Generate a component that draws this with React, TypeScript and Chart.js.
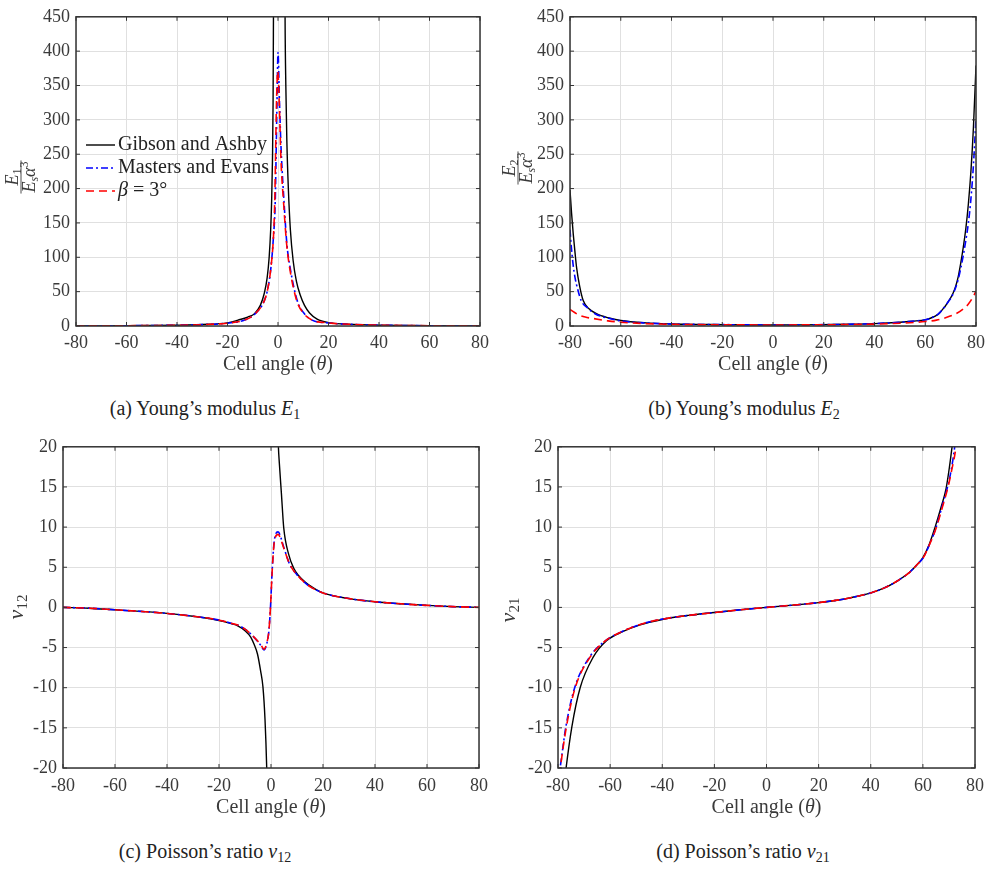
import React, { useEffect, useRef } from "react";
import { Chart, registerables } from "chart.js";

Chart.register(...registerables);

// ---------- tick labels ----------
const X_TICKS = [-80, -60, -40, -20, 0, 20, 40, 60, 80];
const E_TICKS = [0, 50, 100, 150, 200, 250, 300, 350, 400, 450];
const NU_TICKS = [-20, -15, -10, -5, 0, 5, 10, 15, 20];

// ---------- series names ----------
const SERIES_NAMES = ["Gibson and Ashby", "Masters and Evans", "β = 3°"];

// ---------- (a) E1 ----------
const E1_GA_X = [-80, -70, -60, -50, -40, -30, -20, -15.8, -12, -9.3, -7, -5.4, -4.3, -3.5, -2.9, -2.5, -2.2, -1.95, -1.8, -1.6, 0.5, 2.6, 2.8, 3.1, 3.5, 4.1, 4.9, 6.0, 7.3, 8.8, 10.5, 12.5, 15.5, 20, 30, 40, 50, 60, 70, 80];
const E1_GA_Y = [0.1, 0.2, 0.4, 0.7, 1.2, 2.2, 4.5, 8.6, 13, 18, 30, 48, 70, 100, 140, 185, 240, 324, 450, 650, null, 650, 450, 350, 270, 200, 140, 95, 65, 45, 30, 19, 10, 5, 2.3, 1.2, 0.7, 0.4, 0.2, 0.1];
const E1_ME_X = [-80, -70, -60, -50, -40, -30, -20, -13.2, -9, -5.4, -4, -2.8, -1.8, -1.1, -0.7, -0.4, 0, 0.6, 1.2, 2.4, 3.5, 4.8, 7.6, 10, 13.5, 20, 30, 40, 50, 60, 70, 80];
const E1_ME_Y = [0.1, 0.2, 0.4, 0.7, 1.1, 2, 4.2, 8.6, 18, 37, 55, 85, 130, 180, 260, 324, 398, 324, 260, 180, 120, 85, 37, 20, 8.6, 4.5, 2.2, 1.2, 0.7, 0.4, 0.2, 0.1];
const E1_B3_X = [-80, -70, -60, -50, -40, -30, -20, -13.2, -9, -5.4, -4, -2.8, -1.8, -1.3, -0.6, -0.1, 0.5, 1.2, 2.2, 3.4, 4.6, 7.4, 10, 13.5, 20, 30, 40, 50, 60, 70, 80];
const E1_B3_Y = [0.1, 0.2, 0.4, 0.7, 1.1, 2, 4.2, 8.6, 18, 37, 55, 85, 130, 180, 324, 371, 324, 240, 180, 120, 85, 37, 19, 8.6, 4.5, 2.2, 1.2, 0.7, 0.4, 0.2, 0.1];

// ---------- (b) E2 ----------
const E2_GA_X = [-80, -79.4, -78.7, -78, -77.4, -76.2, -74.8, -72.5, -69.6, -65, -60, -50, -40, -30, -20, -10, 0, 10, 20, 30, 40, 50, 55, 60, 62.5, 65, 66, 67, 68, 69, 70, 71, 72, 73, 74, 75, 76, 77, 78, 79, 80];
const E2_GA_Y = [198, 165, 133, 106, 85, 58, 37, 25, 18, 12, 8, 4.5, 3, 2.3, 2, 1.7, 1.5, 1.6, 2, 2.5, 3.5, 5.5, 7, 9, 12, 17, 20.5, 25, 29.5, 35, 41, 48, 58, 72, 92, 115, 142, 178, 225, 290, 379];
const E2_ME_X = [-80, -79.5, -78.8, -78, -77, -75.6, -73, -70, -65, -60, -50, -40, -30, -20, -10, 0, 10, 20, 30, 40, 50, 55, 60, 62.5, 65, 66, 67, 68, 69, 70, 71, 72, 73, 74, 75, 76, 77, 78, 79, 80];
const E2_ME_Y = [140, 116, 90, 70, 54, 37, 26, 17.5, 11.5, 7.5, 4.3, 3, 2.3, 2, 1.7, 1.5, 1.6, 2, 2.5, 3.5, 5.5, 7, 9, 12, 17, 20.5, 25, 29.5, 35, 40, 47, 56, 68, 84, 103, 125, 150, 185, 235, 302];
const E2_B3_X = [-80, -77, -74, -71, -65, -60, -50, -40, -30, -20, -10, 0, 10, 20, 30, 40, 50, 60, 64.4, 68, 72.2, 75, 77, 79.1, 80];
const E2_B3_Y = [24, 17, 13, 11, 7.5, 5.5, 3.5, 2.5, 2, 1.8, 1.6, 1.5, 1.6, 1.8, 2.1, 2.8, 4, 6.5, 8.6, 12, 18, 25, 32, 44, 51];

// ---------- (c) nu12 ----------
const N12_GA_X = [-80, -70, -60, -50, -40, -30, -20.4, -15, -12.8, -10, -7.8, -6.5, -5.2, -4, -3.1, -2.3, -1.65, -1.4, 0.5, 2.6, 2.85, 3.2, 4.0, 4.9, 6.8, 8.7, 10.5, 13, 16, 20, 30, 40, 50, 60, 70, 80];
const N12_GA_Y = [0, -0.1, -0.3, -0.5, -0.75, -1.1, -1.6, -2.05, -2.3, -2.9, -3.7, -4.6, -5.8, -7.9, -9.9, -14, -20, -24, null, 23, 20, 18, 14.2, 9.9, 6.6, 4.9, 4.0, 3.2, 2.5, 1.8, 1.1, 0.7, 0.45, 0.25, 0.1, 0];
const N12_ME_X = [-80, -70, -60, -50, -40, -30, -20.4, -15, -12.8, -10, -7.8, -5.2, -4, -2.7, -1.4, -0.8, -0.2, 0.45, 1.3, 2.7, 4.9, 7, 9.9, 13.7, 16, 20, 30, 40, 50, 60, 70, 80];
const N12_ME_Y = [0, -0.1, -0.3, -0.5, -0.75, -1.1, -1.55, -2, -2.2, -2.7, -3.3, -4.2, -4.7, -5.3, -4.2, -2.9, 0, 4.6, 8.4, 9.4, 7.5, 5.5, 4.1, 2.9, 2.4, 1.8, 1.1, 0.7, 0.45, 0.25, 0.1, 0];
const N12_B3_X = [-80, -70, -60, -50, -40, -30, -20.4, -15, -12.8, -10, -7.8, -5.2, -4, -2.7, -1.4, -0.8, -0.2, 0.45, 1.3, 2.7, 4.9, 7, 9.9, 13.7, 16, 20, 30, 40, 50, 60, 70, 80];
const N12_B3_Y = [0, -0.1, -0.3, -0.5, -0.75, -1.1, -1.55, -2, -2.2, -2.7, -3.3, -4.15, -4.6, -5.2, -4.15, -2.9, 0, 4.5, 8.2, 9.1, 7.4, 5.5, 4.1, 2.9, 2.4, 1.8, 1.1, 0.7, 0.45, 0.25, 0.1, 0];

// ---------- (d) nu21 ----------
const N21_GA_X = [-77.6, -76.9, -74.7, -71.5, -66.5, -61.4, -55, -48.8, -40, -30, -20, -10, 0, 10, 20, 30, 35, 40, 45, 50, 55, 58, 60, 62.5, 64.6, 67, 68.9, 70.2, 71.2, 72];
const N21_GA_Y = [-22, -20, -14.9, -10, -6.2, -4.15, -3, -2.2, -1.5, -1, -0.64, -0.3, 0, 0.28, 0.6, 1.05, 1.4, 1.8, 2.4, 3.25, 4.4, 5.4, 6.2, 7.9, 9.9, 12.5, 14.8, 17.5, 20, 22];
const N21_ME_X = [-80, -79.2, -77, -73.6, -67.9, -62, -55, -48.8, -40, -30, -20, -10, 0, 10, 20, 30, 35, 40, 45, 50, 55, 58, 60, 62.5, 65, 67.3, 69.3, 70.8, 72.2, 72.8];
const N21_ME_Y = [-21.5, -20, -14.9, -10, -6.2, -4.2, -2.95, -2.15, -1.46, -1, -0.64, -0.3, 0, 0.28, 0.6, 1.05, 1.4, 1.8, 2.4, 3.25, 4.4, 5.4, 6.1, 7.8, 9.9, 12.5, 14.8, 17, 20, 22];
const N21_B3_X = [-80, -79.1, -76.8, -73.4, -67.7, -62, -55, -48.8, -40, -30, -20, -10, 0, 10, 20, 30, 35, 40, 45, 50, 55, 58, 60, 62.5, 65.1, 67.5, 69.5, 71, 72.7, 73.3];
const N21_B3_Y = [-22.5, -20, -14.9, -10, -6.2, -4.2, -2.95, -2.15, -1.46, -1, -0.64, -0.3, 0, 0.28, 0.6, 1.05, 1.4, 1.8, 2.4, 3.25, 4.4, 5.4, 6.1, 7.8, 9.9, 12.5, 14.8, 17, 20, 22];

// ---------- styling ----------
const SERIF = '"Liberation Serif"';
const TEXT_COLOR = "#3a3a3a";
const AXIS_COLOR = "#333333";
const GRID_COLOR = "#e0e0e0";
const STYLES = [
  { color: "#000000", dash: [] as number[], width: 1.4, order: 2 },
  { color: "#0000ff", dash: [7, 3, 2, 3], width: 1.6, order: 1 },
  { color: "#ff0000", dash: [8, 5], width: 1.6, order: 0 },
];

type Part = { t: string; size: number; italic?: boolean; dy?: number };

function fontOf(p: Part) {
  return `${p.italic ? "italic " : ""}${p.size}px ${SERIF}`;
}

function richWidth(ctx: CanvasRenderingContext2D, parts: Part[]) {
  let w = 0;
  for (const p of parts) {
    ctx.font = fontOf(p);
    w += ctx.measureText(p.t).width;
  }
  return w;
}

function drawRich(ctx: CanvasRenderingContext2D, parts: Part[], x: number, y: number, align: "left" | "center") {
  const total = richWidth(ctx, parts);
  let cx = align === "center" ? x - total / 2 : x;
  ctx.textAlign = "left";
  for (const p of parts) {
    ctx.font = fontOf(p);
    ctx.fillText(p.t, cx, y + (p.dy || 0));
    cx += ctx.measureText(p.t).width;
  }
}

function zip(xs: number[], ys: (number | null)[]) {
  return xs.map((x, i) => ({ x, y: ys[i] }));
}

type Panel = {
  key: string;
  left: number;
  top: number;
  w: number;
  h: number;
  area: { l: number; t: number; r: number; b: number };
  yMin: number;
  yMax: number;
  yTicks: number[];
  series: { xs: number[]; ys: (number | null)[] }[];
  yTitle: { kind: "frac" | "sub"; idx: string; x: number; y: number };
  legend: boolean;
  tickPad: number;
  xTitleY: number;
};

const PANELS: Panel[] = [
  {
    key: "a", left: 0, top: 0, w: 495, h: 385,
    area: { l: 76, t: 12, r: 485, b: 326 },
    yMin: 0, yMax: 450, yTicks: E_TICKS,
    series: [
      { xs: E1_GA_X, ys: E1_GA_Y },
      { xs: E1_ME_X, ys: E1_ME_Y },
      { xs: E1_B3_X, ys: E1_B3_Y },
    ],
    yTitle: { kind: "frac", idx: "1", x: 21, y: 177 },
    legend: true, tickPad: 6, xTitleY: 365,
  },
  {
    key: "b", left: 495, top: 0, w: 496, h: 385,
    area: { l: 75, t: 12, r: 485, b: 326 },
    yMin: 0, yMax: 450, yTicks: E_TICKS,
    series: [
      { xs: E2_GA_X, ys: E2_GA_Y },
      { xs: E2_ME_X, ys: E2_ME_Y },
      { xs: E2_B3_X, ys: E2_B3_Y },
    ],
    yTitle: { kind: "frac", idx: "2", x: 23, y: 168 },
    legend: false, tickPad: 6, xTitleY: 365,
  },
  {
    key: "c", left: 0, top: 430, w: 495, h: 400,
    area: { l: 63, t: 15, r: 485, b: 338 },
    yMin: -20, yMax: 20, yTicks: NU_TICKS,
    series: [
      { xs: N12_GA_X, ys: N12_GA_Y },
      { xs: N12_ME_X, ys: N12_ME_Y },
      { xs: N12_B3_X, ys: N12_B3_Y },
    ],
    yTitle: { kind: "sub", idx: "12", x: 17, y: 177 },
    legend: false, tickPad: 7, xTitleY: 378,
  },
  {
    key: "d", left: 495, top: 430, w: 496, h: 400,
    area: { l: 63, t: 15, r: 485, b: 338 },
    yMin: -20, yMax: 20, yTicks: NU_TICKS,
    series: [
      { xs: N21_GA_X, ys: N21_GA_Y },
      { xs: N21_ME_X, ys: N21_ME_Y },
      { xs: N21_B3_X, ys: N21_B3_Y },
    ],
    yTitle: { kind: "sub", idx: "21", x: 14, y: 180 },
    legend: false, tickPad: 7, xTitleY: 378,
  },
];

function framePlugin(panel: Panel) {
  return {
    id: "frame_" + panel.key,
    afterDraw(chart: any) {
      const ctx: CanvasRenderingContext2D = chart.ctx;
      const a = chart.chartArea;
      const xs = chart.scales.x;
      const ys = chart.scales.y;
      ctx.save();
      // inward tick marks on all four sides
      ctx.strokeStyle = AXIS_COLOR;
      ctx.lineWidth = 1;
      ctx.beginPath();
      for (const v of X_TICKS) {
        const px = xs.getPixelForValue(v);
        ctx.moveTo(px, a.bottom);
        ctx.lineTo(px, a.bottom - 4);
        ctx.moveTo(px, a.top);
        ctx.lineTo(px, a.top + 4);
      }
      for (const v of panel.yTicks) {
        const py = ys.getPixelForValue(v);
        ctx.moveTo(a.left, py);
        ctx.lineTo(a.left + 4, py);
        ctx.moveTo(a.right, py);
        ctx.lineTo(a.right - 4, py);
      }
      ctx.stroke();
      // box
      ctx.lineWidth = 1.5;
      ctx.strokeRect(a.left, a.top, a.right - a.left, a.bottom - a.top);

      ctx.fillStyle = TEXT_COLOR;
      ctx.strokeStyle = TEXT_COLOR;

      // x title
      ctx.textBaseline = "middle";
      drawRich(ctx, [
        { t: "Cell angle (", size: 20 },
        { t: "θ", size: 20, italic: true },
        { t: ")", size: 20 },
      ], (a.left + a.right) / 2, panel.xTitleY, "center");

      // y title (rotated)
      ctx.textBaseline = "alphabetic";
      const yt = panel.yTitle;
      ctx.translate(yt.x, yt.y);
      ctx.rotate(-Math.PI / 2);
      if (yt.kind === "frac") {
        const num: Part[] = [
          { t: "E", size: 18, italic: true },
          { t: yt.idx, size: 12, dy: 3 },
        ];
        const den: Part[] = [
          { t: "E", size: 18, italic: true },
          { t: "s", size: 12, italic: true, dy: 3 },
          { t: "α", size: 18, italic: true },
          { t: "3", size: 12, dy: -7 },
        ];
        drawRich(ctx, num, 0, -3, "center");
        drawRich(ctx, den, 0, 14, "center");
        const bw = Math.max(richWidth(ctx, num), richWidth(ctx, den)) + 2;
        ctx.lineWidth = 0.9;
        ctx.beginPath();
        ctx.moveTo(-bw / 2, 0);
        ctx.lineTo(bw / 2, 0);
        ctx.stroke();
      } else {
        drawRich(ctx, [
          { t: "ν", size: 22, italic: true },
          { t: yt.idx, size: 15, dy: 4 },
        ], 0, 6, "center");
      }
      ctx.setTransform(1, 0, 0, 1, 0, 0);

      // legend
      if (panel.legend) {
        const rows = [145, 168, 191];
        ctx.textBaseline = "middle";
        rows.forEach((ry, i) => {
          const st = STYLES[i];
          ctx.strokeStyle = st.color;
          ctx.lineWidth = st.width;
          ctx.setLineDash(st.dash);
          ctx.beginPath();
          ctx.moveTo(86, ry);
          ctx.lineTo(115, ry);
          ctx.stroke();
          ctx.setLineDash([]);
          ctx.fillStyle = "#222222";
          if (i === 2) {
            drawRich(ctx, [
              { t: "β", size: 20, italic: true },
              { t: " = 3°", size: 20 },
            ], 118, ry, "left");
          } else {
            drawRich(ctx, [{ t: SERIES_NAMES[i], size: 20 }], 118, ry, "left");
          }
        });
      }
      ctx.restore();
    },
  };
}

function buildConfig(panel: Panel): any {
  const tickFont = { family: SERIF, size: 18 };
  return {
    type: "line",
    data: {
      datasets: panel.series.map((s, i) => ({
        label: SERIES_NAMES[i],
        data: zip(s.xs, s.ys),
        borderColor: STYLES[i].color,
        backgroundColor: STYLES[i].color,
        borderDash: STYLES[i].dash,
        borderWidth: STYLES[i].width,
        pointRadius: 0,
        fill: false,
        spanGaps: false,
        cubicInterpolationMode: "monotone",
        order: STYLES[i].order,
      })),
    },
    options: {
      responsive: false,
      animation: false,
      devicePixelRatio: 1,
      events: [],
      layout: {
        padding: { left: 0, top: panel.area.t, right: panel.w - panel.area.r, bottom: 0 },
      },
      plugins: { legend: { display: false }, tooltip: { enabled: false } },
      scales: {
        x: {
          type: "linear",
          min: -80,
          max: 80,
          afterBuildTicks: (s: any) => {
            s.ticks = X_TICKS.map((v) => ({ value: v }));
          },
          afterFit: (s: any) => {
            s.height = panel.h - panel.area.b;
          },
          ticks: {
            font: tickFont,
            color: TEXT_COLOR,
            padding: panel.tickPad,
            maxRotation: 0,
            autoSkip: false,
            callback: (v: any) => String(v),
          },
          grid: { color: GRID_COLOR, drawTicks: false, lineWidth: 1 },
          border: { display: false },
          title: { display: false },
        },
        y: {
          type: "linear",
          min: panel.yMin,
          max: panel.yMax,
          afterBuildTicks: (s: any) => {
            s.ticks = panel.yTicks.map((v) => ({ value: v }));
          },
          afterFit: (s: any) => {
            s.width = panel.area.l;
          },
          ticks: {
            font: tickFont,
            color: TEXT_COLOR,
            padding: 6,
            autoSkip: false,
            callback: (v: any) => String(v),
          },
          grid: { color: GRID_COLOR, drawTicks: false, lineWidth: 1 },
          border: { display: false },
        },
      },
    },
    plugins: [framePlugin(panel)],
  };
}

function ChartPanel({ panel }: { panel: Panel }) {
  const ref = useRef<HTMLCanvasElement>(null);
  useEffect(() => {
    const chart = new Chart(ref.current as HTMLCanvasElement, buildConfig(panel));
    return () => {
      chart.destroy();
    };
  }, []);
  return (
    <canvas
      ref={ref}
      width={panel.w}
      height={panel.h}
      style={{ position: "absolute", left: panel.left, top: panel.top, width: panel.w, height: panel.h }}
    />
  );
}

const CAPTIONS = [
  { cx: 205, y: 408, pre: "(a) Young’s modulus ", sym: "E", sub: "1" },
  { cx: 744, y: 408, pre: "(b) Young’s modulus ", sym: "E", sub: "2" },
  { cx: 205, y: 851, pre: "(c) Poisson’s ratio ", sym: "ν", sub: "12" },
  { cx: 743, y: 851, pre: "(d) Poisson’s ratio ", sym: "ν", sub: "21" },
];

export default function App() {
  return (
    <div style={{ position: "absolute", left: 0, top: 0, width: 991, height: 873, background: "#ffffff", overflow: "hidden", fontFamily: SERIF }}>
      {PANELS.map((p) => (
        <ChartPanel key={p.key} panel={p} />
      ))}
      {CAPTIONS.map((c, i) => (
        <div
          key={i}
          style={{
            position: "absolute",
            left: c.cx - 200,
            width: 400,
            top: c.y - 12,
            height: 24,
            lineHeight: "24px",
            textAlign: "center",
            fontFamily: SERIF,
            fontSize: 20,
            color: "#222222",
            whiteSpace: "nowrap",
          }}
        >
          {c.pre}
          <i>{c.sym}</i>
          <span style={{ fontSize: 14, position: "relative", top: 4 }}>{c.sub}</span>
        </div>
      ))}
    </div>
  );
}
